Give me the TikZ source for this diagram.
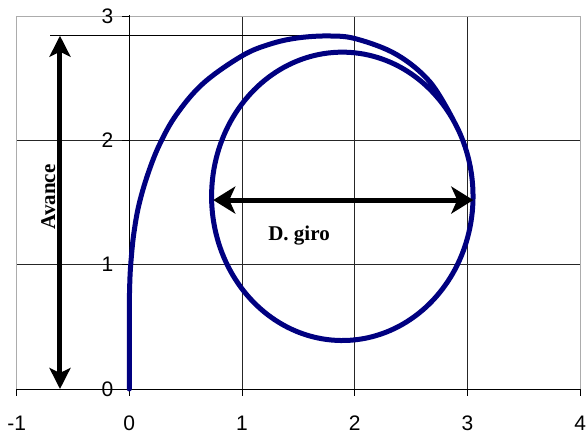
\documentclass[tikz,border=0pt]{standalone}
\usepackage{fontspec}
\setmainfont{Liberation Serif}
\newfontfamily\axisfont{Liberation Sans}
\usetikzlibrary{arrows.meta}
\definecolor{navyc}{RGB}{0,0,128}
\tikzset{
  gridline/.style={black!85, line width=0.8pt},
  borderline/.style={gray!65, line width=1pt},
  axisline/.style={black, line width=1pt},
  ticklabel/.style={font=\axisfont\fontsize{21}{21}\selectfont, inner sep=0pt},
  curveline/.style={draw=navyc, line width=5pt, line join=round, line cap=round},
  refline/.style={black, line width=0.9pt},
  vdim/.style={line width=5pt, {Stealth[length=21pt,width=21pt,inset=5pt]}-{Stealth[length=21pt,width=21pt,inset=5pt]}},
  hdim/.style={line width=5pt, {Stealth[length=22pt,width=27pt,inset=6pt]}-{Stealth[length=22pt,width=27pt,inset=6pt]}},
  dimlabel/.style={font=\bfseries\fontsize{21}{21}\selectfont, inner sep=0pt},
}
\begin{document}
\begin{tikzpicture}[x=1pt,y=1pt]
\useasboundingbox (0,0) rectangle (588,437);
\begin{scope}[shift={(129.3,48)}, x=112.7pt, y=124.3pt]
  % grid
  \foreach \gy in {1,2} \draw[gridline] (-1,\gy) -- (4,\gy);
  \foreach \gx in {1,2,3} \draw[gridline] (\gx,0) -- (\gx,3);
  % border
  \draw[borderline] (-1,0) -- (-1,3) -- (4,3) -- (4,0);
  % axes
  \draw[axisline] (-1,0) -- (4,0);
  \draw[axisline] (0,0) -- (0,3.01);
  \foreach \tx in {-1,0,1,2,3,4} \draw[axisline] (\tx,0) -- (\tx,-0.06);
  \foreach \ty in {0,1,2,3} \draw[axisline] (0,\ty) -- (-0.068,\ty);
  % tick labels
  \node[ticklabel] (xl-1) at (-1,-0.278) {-1};
  \node[ticklabel] (xl0) at (0,-0.278) {0};
  \node[ticklabel] (xl1) at (1,-0.278) {1};
  \node[ticklabel] (xl2) at (2,-0.278) {2};
  \node[ticklabel] (xl3) at (3,-0.278) {3};
  \node[ticklabel] (xl4) at (4,-0.278) {4};
  \node[ticklabel, anchor=east] (yl0) at (-0.14,0) {0};
  \node[ticklabel, anchor=east] (yl1) at (-0.14,1) {1};
  \node[ticklabel, anchor=east] (yl2) at (-0.14,2) {2};
  \node[ticklabel, anchor=east] (yl3) at (-0.14,3) {3};
  % reference line at the top of the advance
  \coordinate (refL) at (-0.703,2.842);
  \coordinate (refR) at (1.6,2.842);
  \draw[refline] (refL) -- (refR);
  % trajectory
  \draw[curveline] (0,0) -- (0,0.7) plot[smooth, tension=0.6] coordinates {(0,0.7) (0.006,0.9) (0.017,1.05) (0.04,1.25) (0.085,1.48) (0.165,1.73) (0.27,1.97) (0.42,2.21) (0.657,2.46) (1.0,2.68) (1.25,2.775) (1.5,2.825) (1.78,2.84) (2.02,2.815) (2.373,2.69) (2.668,2.47) (2.874,2.165)}
    -- plot[domain=32:-330, samples=181] ({1.89+1.16*cos(\x)},{1.55+1.16*sin(\x)});
  % dimension arrows
  \coordinate (avTop) at (-0.615,2.842);
  \coordinate (avBot) at (-0.615,0);
  \draw[vdim] (avTop) -- (avBot);
  \coordinate (dgL) at (0.745,1.52);
  \coordinate (dgR) at (3.052,1.52);
  \draw[hdim] (dgL) -- (dgR);
  % labels
  \node[dimlabel, rotate=90, anchor=base] (avance) at (-0.659,1.545) {Avance};
  \node[dimlabel, anchor=base] (dgiro) at (1.506,1.193) {D. giro};
\end{scope}
\end{tikzpicture}
\end{document}
